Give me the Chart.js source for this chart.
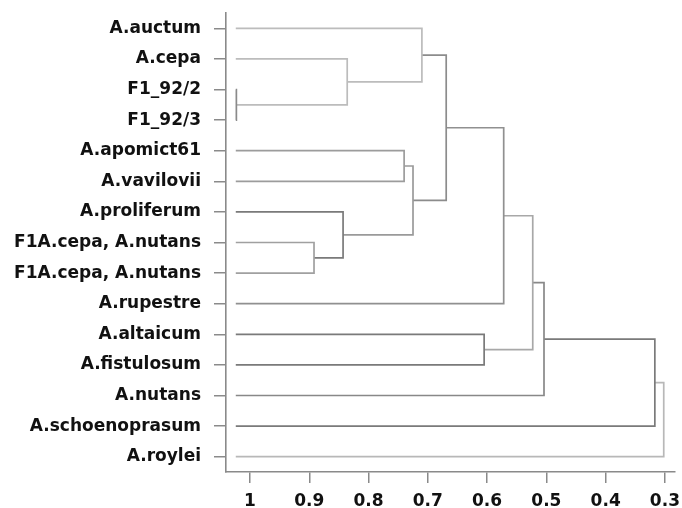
<!DOCTYPE html>
<html>
<head>
<meta charset="utf-8">
<script src="https://cdn.jsdelivr.net/npm/chart.js@4.4.1/dist/chart.umd.min.js"></script>
<style>
  html, body { margin: 0; padding: 0; background: #fff; }
  #wrap { width: 682px; height: 508px; }
</style>
</head>
<body>
<div id="wrap"><canvas id="dendro"></canvas></div>
<script>
// leaves, top to bottom
const leaves = [
    'A.auctum', 'A.cepa', 'F1_92/2', 'F1_92/3', 'A.apomict61', 'A.vavilovii',
    'A.proliferum', 'F1A.cepa, A.nutans', 'F1A.cepa, A.nutans', 'A.rupestre',
    'A.altaicum', 'A.fistulosum', 'A.nutans', 'A.schoenoprasum', 'A.roylei'
];
const leafHeight = 1.024;

// merges: index < 15 is a leaf, otherwise 15 + merge number
const mergeLeft   = [2, 1, 0, 4, 7, 6, 18, 17, 9, 10, 23, 12, 13, 14];
const mergeRight  = [3, 15, 16, 5, 8, 19, 20, 21, 22, 11, 24, 25, 26, 27];
const mergeHeight = [1.023, 0.836, 0.71, 0.74, 0.892, 0.843, 0.725, 0.669, 0.572, 0.605, 0.523, 0.504, 0.317, 0.302];

const xTicks = [1, 0.9, 0.8, 0.7, 0.6, 0.5, 0.4, 0.3];
const xTickLabels = ['1', '0.9', '0.8', '0.7', '0.6', '0.5', '0.4', '0.3'];

// grey shade of each link (scan looks uneven)
const linkShade = ['#8a8a8a', '#bcbcbc', '#bcbcbc', '#9c9c9c', '#a0a0a0', '#7a7a7a', '#9a9a9a',
    '#8c8c8c', '#909090', '#7a7a7a', '#a8a8a8', '#888888', '#7a7a7a', '#b8b8b8'];

const nodeX = leaves.map(() => leafHeight);
const nodeY = leaves.map((l, i) => i);
const datasets = [];
mergeHeight.forEach((h, k) => {
    const a = mergeLeft[k], b = mergeRight[k];
    nodeX.push(h);
    nodeY.push((nodeY[a] + nodeY[b]) / 2);
    datasets.push({
        data: [
            { x: nodeX[a], y: nodeY[a] },
            { x: h, y: nodeY[a] },
            { x: h, y: nodeY[b] },
            { x: nodeX[b], y: nodeY[b] }
        ],
        showLine: true,
        borderColor: linkShade[k],
        borderWidth: 1.7,
        pointRadius: 0,
        tension: 0,
        fill: false
    });
});

const labelFont = { family: 'DejaVu Sans', weight: 'bold', size: 17 };

new Chart(document.getElementById('dendro'), {
    type: 'scatter',
    data: { datasets: datasets },
    options: {
        responsive: true,
        maintainAspectRatio: false,
        animation: false,
        layout: { padding: { top: 13, right: 7, left: 0, bottom: 0 } },
        plugins: { legend: { display: false }, tooltip: { enabled: false } },
        scales: {
            x: {
                type: 'linear',
                reverse: true,
                min: 0.283,
                max: 1.0405,
                afterBuildTicks: s => { s.ticks = xTicks.map(v => ({ value: v })); },
                afterFit: s => { s.height = 36; s.paddingLeft = 0; s.paddingRight = 0; },
                grid: { drawOnChartArea: false, drawTicks: true, tickLength: 11, color: '#8a8a8a', lineWidth: 1.5 },
                border: { color: '#8a8a8a', width: 1.6 },
                ticks: {
                    color: '#111',
                    font: labelFont,
                    padding: 8,
                    maxRotation: 0,
                    autoSkip: false,
                    callback: (v, i) => xTickLabels[i]
                }
            },
            y: {
                type: 'linear',
                reverse: true,
                min: -0.5,
                max: 14.5,
                afterBuildTicks: s => { s.ticks = leaves.map((l, i) => ({ value: i })); },
                afterFit: s => { s.width = 226; s.paddingTop = 0; s.paddingBottom = 0; },
                grid: { drawOnChartArea: false, drawTicks: true, tickLength: 12, color: '#8a8a8a', lineWidth: 1.5 },
                border: { color: '#8a8a8a', width: 1.6 },
                ticks: {
                    color: '#111',
                    font: labelFont,
                    padding: 13,
                    autoSkip: false,
                    callback: v => leaves[v]
                }
            }
        }
    }
});
</script>
</body>
</html>
